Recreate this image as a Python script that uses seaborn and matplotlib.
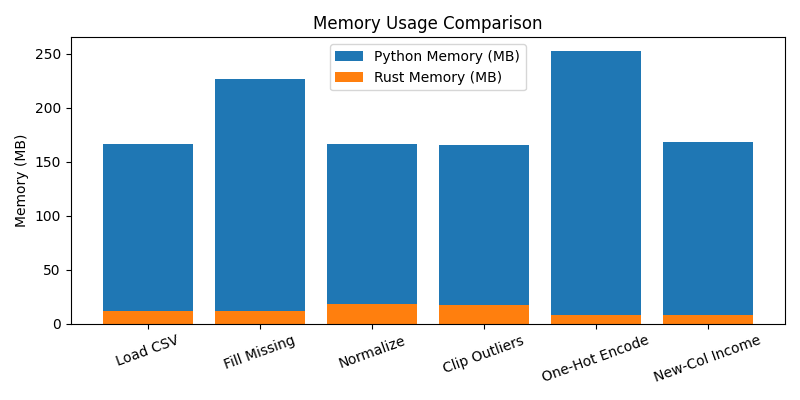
#!/usr/bin/env python3
from matplotlib import pyplot as plt
import pandas
import seaborn

steps = ["Load CSV", "Fill Missing", "Normalize", "Clip Outliers", "One-Hot Encode", "New-Col Income"]
python_mem = [166.2, 226.5, 166.3, 165.3, 252.0, 168.0]
rust_mem = [12.0, 12.0, 18.5, 17.5, 7.8, 7.8]

df = pandas.DataFrame({'Step': steps, 'Python': python_mem, 'Rust': rust_mem})

fig, ax = plt.subplots(figsize=(8, 4), dpi=100)
seaborn.barplot(df, x='Step', y='Python', color='#1f77b4', saturation=1, width=0.8,
				linewidth=0, label='Python Memory (MB)', ax=ax)
seaborn.barplot(df, x='Step', y='Rust', color='#ff7f0e', saturation=1, width=0.8,
				linewidth=0, label='Rust Memory (MB)', ax=ax)

ax.set_xlim(-0.69, 5.69)
ax.set_ylim(0, 265)
ax.set_xlabel("")
ax.set_ylabel("Memory (MB)")
ax.set_title("Memory Usage Comparison")
plt.xticks(rotation=20)
ax.legend(loc='upper center')
plt.tight_layout()
plt.savefig("out.png")
